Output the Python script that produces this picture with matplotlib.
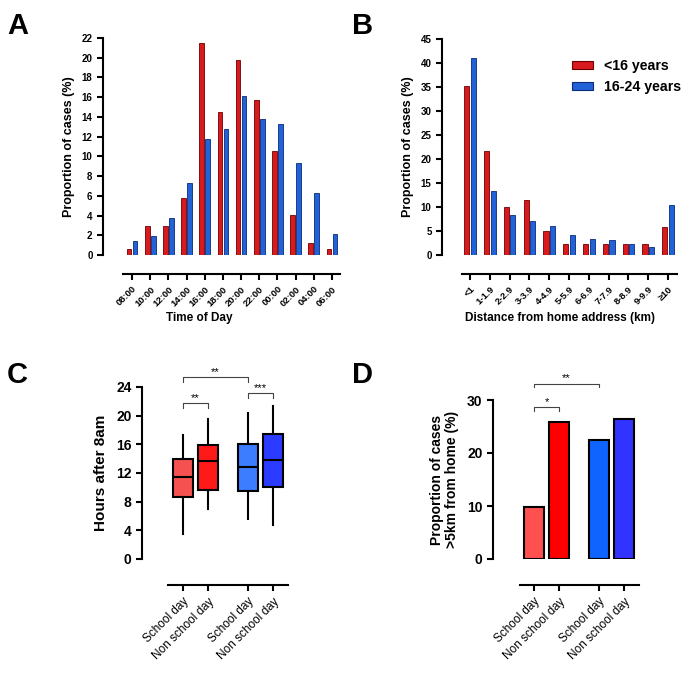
import matplotlib
matplotlib.use("Agg")
import matplotlib.pyplot as plt
import numpy as np
from matplotlib.patches import Patch

plt.rcParams['font.family'] = ['Liberation Sans', 'DejaVu Sans']

# ---------------- data ----------------
time_labels = ["08:00", "10:00", "12:00", "14:00", "16:00", "18:00", "20:00",
               "22:00", "00:00", "02:00", "04:00", "06:00"]
time_under16 = [0.6, 2.9, 2.9, 5.8, 21.5, 14.5, 19.8, 15.7, 10.5, 4.1, 1.2, 0.6]
time_16_24 = [1.4, 1.9, 3.8, 7.3, 11.8, 12.8, 16.1, 13.8, 13.3, 9.3, 6.3, 2.1]

dist_labels = ["<1", "1-1.9", "2-2.9", "3-3.9", "4-4.9", "5-5.9", "6-6.9",
               "7-7.9", "8-8.9", "9-9.9", "≥10"]
dist_under16 = [35.2, 21.6, 10.1, 11.5, 5.1, 2.2, 2.2, 2.2, 2.2, 2.2, 5.8]
dist_16_24 = [41.0, 13.3, 8.4, 7.1, 6.1, 4.1, 3.4, 3.1, 2.2, 1.6, 10.4]

group_labels = ["School day", "Non school day", "School day", "Non school day"]
box_whislo = [3.5, 7.0, 5.6, 4.7]
box_q1 = [8.6, 9.6, 9.5, 10.1]
box_med = [11.4, 13.7, 12.9, 13.8]
box_q3 = [14.0, 15.9, 16.1, 17.5]
box_whishi = [17.3, 19.5, 20.4, 21.4]

far_pct = [9.9, 25.9, 22.5, 26.4]

series_names = ["<16 years", "16-24 years"]

# ---------------- style ----------------
RED, RED_E = '#D81A1E', '#6E0000'
BLUE, BLUE_E = '#2262D8', '#0B2A78'
box_colors = ['#F65151', '#FF1A1A', '#3C7DFF', '#2B3BFF']
bar_colors = ['#FF5050', '#FF0000', '#0F64FF', '#3333FF']
LW = 1.5

fig = plt.figure(figsize=(6.9, 6.79), dpi=100)
W, H = 690, 679


def add_ax(x0, x1, ytop, ybot):
    return fig.add_axes([x0 / W, 1 - ybot / H, (x1 - x0) / W, (ybot - ytop) / H])


def style(ax, offset_px, xbounds, ybounds):
    for s in ['top', 'right']:
        ax.spines[s].set_visible(False)
    ax.spines['left'].set_linewidth(LW)
    ax.spines['bottom'].set_linewidth(LW)
    ax.spines['bottom'].set_position(('outward', offset_px * 72 / 100))
    ax.spines['bottom'].set_bounds(*xbounds)
    ax.spines['left'].set_bounds(*ybounds)
    ax.tick_params(axis='both', width=LW, length=4, direction='out')


def set_labels(ax, yticks, xticks, xlabels, ysize, xsize, xweight):
    ax.set_yticks(yticks)
    ax.set_yticklabels([str(v) for v in yticks], fontsize=ysize, fontweight='bold')
    ax.set_xticks(xticks)
    ax.set_xticklabels(xlabels, rotation=45, ha='right', rotation_mode='anchor',
                       fontsize=xsize, fontweight=xweight)


# ---------------- Panel A ----------------
axA = add_ax(103, 340, 38, 255)
style(axA, 19, (-0.5, 11.44), (0, 22))
x = np.arange(len(time_labels))
bw = 0.26
axA.bar(x - 0.165, time_under16, bw, color=RED, edgecolor=RED_E, linewidth=0.6)
axA.bar(x + 0.165, time_16_24, bw, color=BLUE, edgecolor=BLUE_E, linewidth=0.6)
axA.set_ylim(0, 22)
axA.set_xlim(-1.6, 11.44)
set_labels(axA, list(range(0, 23, 2)), x, time_labels, 7, 6.8, 'bold')
axA.set_ylabel("Proportion of cases (%)", fontsize=9, fontweight='bold', labelpad=5)
fig.text(199 / W, 1 - 318 / H, "Time of Day", ha='center', va='center',
         fontsize=8.5, fontweight='bold')

# ---------------- Panel B ----------------
axB = add_ax(442, 677, 39, 255)
style(axB, 19, (-0.4, 10.45), (0, 45))
x = np.arange(len(dist_labels))
axB.bar(x - 0.165, dist_under16, bw, color=RED, edgecolor=RED_E, linewidth=0.6)
axB.bar(x + 0.165, dist_16_24, bw, color=BLUE, edgecolor=BLUE_E, linewidth=0.6)
axB.set_ylim(0, 45)
axB.set_xlim(-1.414, 10.45)
set_labels(axB, list(range(0, 46, 5)), x, dist_labels, 7, 6.8, 'bold')
axB.set_ylabel("Proportion of cases (%)", fontsize=9, fontweight='bold', labelpad=5)
fig.text(560 / W, 1 - 318 / H, "Distance from home address (km)", ha='center',
         va='center', fontsize=8.5, fontweight='bold')
handles = [Patch(facecolor=RED, edgecolor=RED_E, linewidth=0.8),
           Patch(facecolor=BLUE, edgecolor=BLUE_E, linewidth=0.8)]
axB.legend(handles, series_names, loc='upper left',
           bbox_to_anchor=(572 / W, 1 - 59 / H), bbox_transform=fig.transFigure,
           borderaxespad=0, borderpad=0,
           frameon=False, prop={'weight': 'bold', 'size': 10.2},
           handlelength=1.5, handleheight=0.5, handletextpad=0.75, labelspacing=0.5)

# ---------------- Panel C ----------------
pos = [0, 1, 2.6, 3.6]
axC = add_ax(142, 288, 387, 559)
style(axC, 26, (-0.6, 4.2), (0, 24))
stats = []
for i in range(4):
    stats.append(dict(med=box_med[i], q1=box_q1[i], q3=box_q3[i],
                      whislo=box_whislo[i], whishi=box_whishi[i], fliers=[]))
bp = axC.bxp(stats, positions=pos, widths=0.82, patch_artist=True, showfliers=False,
             boxprops=dict(linewidth=LW, edgecolor='black'),
             medianprops=dict(color='black', linewidth=LW),
             whiskerprops=dict(color='black', linewidth=LW),
             capprops=dict(color='black', linewidth=LW), capwidths=0.0)
for patch, c in zip(bp['boxes'], box_colors):
    patch.set_facecolor(c)
axC.set_ylim(0, 24)
axC.set_xlim(-1.64, 4.2)
set_labels(axC, list(range(0, 25, 4)), pos, group_labels, 10, 8.5, 'normal')
axC.set_ylabel("Hours after 8am", fontsize=11, fontweight='bold', labelpad=6)


def bracket(ax, x1, x2, y, h, text, fs=8):
    ax.plot([x1, x1, x2, x2], [y - h, y, y, y - h], color='#444444', lw=0.8,
            clip_on=False)
    ax.text((x1 + x2) / 2, y, text, ha='center', va='bottom', fontsize=fs,
            clip_on=False)


bracket(axC, pos[0], pos[1], 21.8, 0.7, "**")
bracket(axC, pos[0], pos[2], 25.4, 0.7, "**")
bracket(axC, pos[2], pos[3], 23.2, 0.7, "***")

# ---------------- Panel D ----------------
axD = add_ax(493, 639, 400, 559)
style(axD, 26, (-0.56, 4.2), (0, 30))
axD.bar(pos, far_pct, 0.8, color=bar_colors, edgecolor='black', linewidth=LW)
axD.set_ylim(0, 30)
axD.set_xlim(-1.64, 4.2)
set_labels(axD, [0, 10, 20, 30], pos, group_labels, 10, 8.5, 'normal')
axD.set_ylabel("Proportion of cases\n>5km from home (%)", fontsize=10,
               fontweight='bold', labelpad=6, linespacing=1.1)
bracket(axD, pos[0], pos[1], 28.6, 0.7, "*")
bracket(axD, pos[0], pos[2], 33.1, 0.7, "**")

# ---------------- panel letters ----------------
for lbl, (px, py) in zip("ABCD", [(7, 34), (352, 34), (7, 383), (352, 383)]):
    fig.text(px / W, 1 - py / H, lbl, fontsize=21, fontweight='bold',
             ha='left', va='baseline')

fig.savefig("out.png", dpi=100)
